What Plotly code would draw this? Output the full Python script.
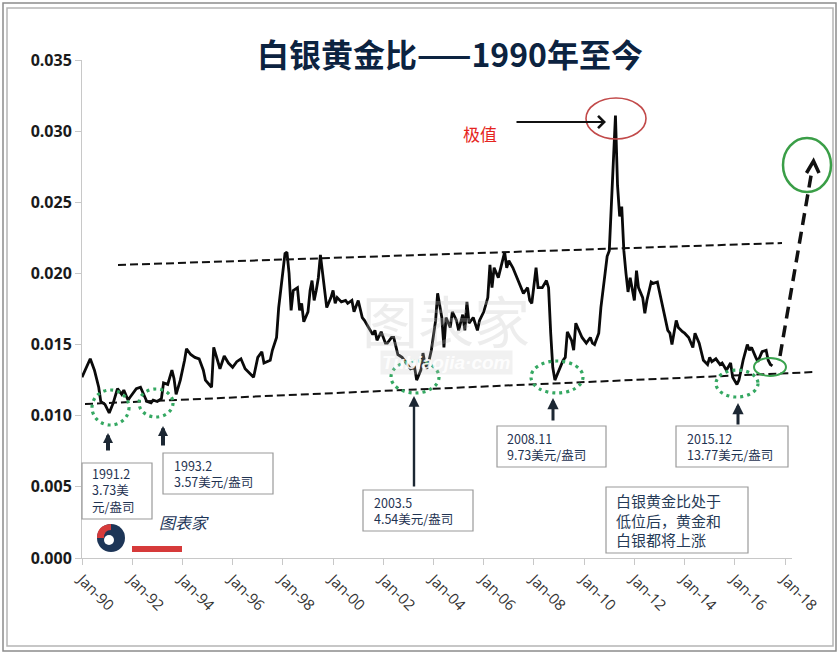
import plotly.graph_objects as go

# ---------------- data ----------------
dates = [
    "1990-01", "1990-03", "1990-05", "1990-07", "1990-09", "1990-10", "1990-12",
    "1991-02", "1991-04", "1991-06", "1991-08", "1991-09", "1991-11", "1991-12",
    "1992-03", "1992-05", "1992-06", "1992-08", "1992-10", "1992-11",
    "1993-01", "1993-03", "1993-04", "1993-06", "1993-08", "1993-09", "1993-10", "1993-12",
    "1994-02", "1994-03", "1994-05", "1994-07", "1994-09", "1994-11", "1994-12",
    "1995-03", "1995-04", "1995-06", "1995-07", "1995-09", "1995-11",
    "1996-01", "1996-03", "1996-05", "1996-06", "1996-07", "1996-09", "1996-11",
    "1997-01", "1997-03", "1997-04", "1997-07", "1997-08", "1997-10", "1997-11",
    "1998-01", "1998-02", "1998-03", "1998-04", "1998-05", "1998-06", "1998-08",
    "1998-09", "1998-10", "1998-11",
    "1999-01", "1999-02", "1999-03", "1999-04", "1999-05", "1999-06", "1999-07",
    "1999-08", "1999-10", "1999-12",
    "2000-01", "2000-02", "2000-03", "2000-05", "2000-07", "2000-08", "2000-10", "2000-11",
    "2001-01", "2001-03", "2001-04", "2001-06", "2001-08", "2001-09", "2001-10", "2001-12",
    "2002-02", "2002-03", "2002-05", "2002-06", "2002-08", "2002-10", "2002-12",
    "2003-02", "2003-04", "2003-05", "2003-07", "2003-08", "2003-09", "2003-10", "2003-12",
    "2004-02", "2004-03", "2004-05", "2004-06", "2004-07", "2004-09", "2004-10", "2004-12",
    "2005-01", "2005-03", "2005-04", "2005-05", "2005-06", "2005-08", "2005-10", "2005-11",
    "2006-01", "2006-03", "2006-04", "2006-05", "2006-06", "2006-08", "2006-10", "2006-11",
    "2006-12",
    "2007-01", "2007-03", "2007-05", "2007-06", "2007-08", "2007-10", "2007-11", "2007-12",
    "2008-02", "2008-03", "2008-05", "2008-07", "2008-08", "2008-09", "2008-10", "2008-11",
    "2009-01", "2009-03", "2009-04", "2009-05", "2009-07", "2009-08", "2009-09", "2009-11",
    "2009-12",
    "2010-02", "2010-04", "2010-05", "2010-06", "2010-08", "2010-09", "2010-11", "2010-12",
    "2011-01", "2011-02", "2011-03", "2011-04", "2011-05", "2011-06", "2011-07", "2011-08",
    "2011-09", "2011-10", "2011-11",
    "2012-01", "2012-02", "2012-03", "2012-05", "2012-06", "2012-07", "2012-09", "2012-10",
    "2012-12",
    "2013-01", "2013-02", "2013-03", "2013-05", "2013-06", "2013-07", "2013-09", "2013-10",
    "2013-12",
    "2014-01", "2014-03", "2014-05", "2014-06", "2014-08", "2014-10", "2014-12",
    "2015-01", "2015-02", "2015-04", "2015-06", "2015-07", "2015-09", "2015-11", "2015-12",
    "2016-02", "2016-03", "2016-04", "2016-05", "2016-07", "2016-08", "2016-09", "2016-10",
    "2016-11", "2016-12",
    "2017-02", "2017-04", "2017-05", "2017-06", "2017-07",
]
ratio = [
    0.0127, 0.0134, 0.0140, 0.0132, 0.0120, 0.0110, 0.0108,
    0.0102, 0.0109, 0.0119, 0.0115, 0.0118, 0.0111, 0.0113,
    0.0119, 0.0120, 0.0117, 0.0110, 0.0109, 0.0111,
    0.0110, 0.0112, 0.0123, 0.0122, 0.0132, 0.0126, 0.0115, 0.0125,
    0.0139, 0.0147, 0.0143, 0.0141, 0.0140, 0.0132, 0.0125,
    0.0120, 0.0148, 0.0137, 0.0133, 0.0142, 0.0137,
    0.0134, 0.0138, 0.0140, 0.0136, 0.0133, 0.0130, 0.0127,
    0.0141, 0.0145, 0.0137, 0.0139, 0.0146, 0.0155, 0.0176,
    0.0204, 0.0214, 0.0215, 0.0200, 0.0174, 0.0188, 0.0190,
    0.0174, 0.0179, 0.0166,
    0.0173, 0.0188, 0.0195, 0.0181, 0.0188, 0.0197, 0.0213,
    0.0200, 0.0176, 0.0183,
    0.0188, 0.0179, 0.0183, 0.0180, 0.0181, 0.0179, 0.0181, 0.0173,
    0.0181, 0.0169, 0.0167, 0.0162, 0.0157, 0.0160, 0.0153, 0.0159,
    0.0151, 0.0151, 0.0155, 0.0155, 0.0143, 0.0141, 0.0137,
    0.0133, 0.0134, 0.0125, 0.0132, 0.0144, 0.0136, 0.0133, 0.0146,
    0.0167, 0.0186, 0.0169, 0.0148, 0.0169, 0.0162, 0.0173, 0.0167,
    0.0160, 0.0171, 0.0160, 0.0180, 0.0165, 0.0169, 0.0160, 0.0167,
    0.0173, 0.0183, 0.0206, 0.0190, 0.0204, 0.0197, 0.0209, 0.0215,
    0.0204,
    0.0209, 0.0204, 0.0197, 0.0193, 0.0186, 0.0190, 0.0181, 0.0179,
    0.0204, 0.0190, 0.0190, 0.0195, 0.0190, 0.0158, 0.0134, 0.0125,
    0.0132, 0.0139, 0.0141, 0.0159, 0.0153, 0.0146, 0.0165, 0.0158,
    0.0155,
    0.0151, 0.0155, 0.0151, 0.0150, 0.0158, 0.0176, 0.0200, 0.0212,
    0.0216, 0.0252, 0.0275, 0.0311, 0.0262, 0.0240, 0.0247, 0.0216,
    0.0200, 0.0187, 0.0197,
    0.0181, 0.0202, 0.0190, 0.0183, 0.0172, 0.0181, 0.0194, 0.0193,
    0.0194,
    0.0187, 0.0180, 0.0172, 0.0160, 0.0158, 0.0150, 0.0167, 0.0162,
    0.0159,
    0.0158, 0.0155, 0.0148, 0.0158, 0.0151, 0.0139, 0.0136,
    0.0141, 0.0138, 0.0140, 0.0136, 0.0137, 0.0132, 0.0137, 0.0127,
    0.0122, 0.0125, 0.0132, 0.0139, 0.0150, 0.0146, 0.0148, 0.0144,
    0.0141, 0.0138,
    0.0145, 0.0146, 0.0139, 0.0136, 0.0135,
]

tick_years = list(range(1990, 2020, 2))
tick_vals = [f"{y}-01-01" for y in tick_years]

title_text = "白银黄金比——1990年至今"
peak_label = "极值"
box_texts = [
    "1991.2<br>3.73美<br>元/盎司",
    "1993.2<br>3.57美元/盎司",
    "2003.5<br>4.54美元/盎司",
    "2008.11<br>9.73美元/盎司",
    "2015.12<br>13.77美元/盎司",
]
note_text = "白银黄金比处于<br>低位后，黄金和<br>白银都将上涨"

# ---------------- layout helpers (reference pixel -> paper) ----------------
L, R, T, B = 82, 792, 60, 558
W, H = 840, 656


def PX(x):
    return (x - L) / (R - L)


def PY(y):
    return (B - y) / (B - T)


CJK = "Noto Sans CJK SC"
NAVY = "#1f3352"

fig = go.Figure()
fig.add_trace(go.Scatter(
    x=dates, y=ratio, mode="lines",
    line=dict(color="#0a0a0a", width=2.8),
    hoverinfo="x+y", showlegend=False,
))

shapes = []
annotations = []

# outer frame (double gray border)
shapes.append(dict(type="rect", xref="paper", yref="paper",
                   x0=PX(3), x1=PX(836), y0=PY(651), y1=PY(3),
                   line=dict(color="#8c8c8c", width=1.5)))
shapes.append(dict(type="rect", xref="paper", yref="paper",
                   x0=PX(7), x1=PX(833), y0=PY(646), y1=PY(8),
                   line=dict(color="#b5b5b5", width=1.5)))

# dashed channel lines
for (xa, ya, xb, yb) in [(118, 265, 782, 243), (85, 404, 815, 372)]:
    shapes.append(dict(type="line", xref="paper", yref="paper",
                       x0=PX(xa), y0=PY(ya), x1=PX(xb), y1=PY(yb),
                       line=dict(color="#111111", width=2, dash="8px,4px")))

# green dotted ellipses around lows
for (x0, x1, y0, y1) in [(92, 129, 390, 425), (139, 173, 389, 417),
                         (391, 439, 361, 393), (531, 583, 361, 393),
                         (716, 758, 370, 397)]:
    shapes.append(dict(type="circle", xref="paper", yref="paper",
                       x0=PX(x0), x1=PX(x1), y0=PY(y1), y1=PY(y0),
                       line=dict(color="#35a862", width=3.2, dash="3px,4px")))

# solid green ellipses
shapes.append(dict(type="circle", xref="paper", yref="paper",
                   x0=PX(754), x1=PX(786), y0=PY(376), y1=PY(358),
                   line=dict(color="#3aa34f", width=2)))
shapes.append(dict(type="circle", xref="paper", yref="paper",
                   x0=PX(783), x1=PX(831), y0=PY(192), y1=PY(138),
                   line=dict(color="#3a9e47", width=2.5)))

# red ellipse around the peak
shapes.append(dict(type="circle", xref="paper", yref="paper",
                   x0=PX(586), x1=PX(646), y0=PY(139), y1=PY(98),
                   line=dict(color="#c24a4a", width=1.6)))

# big dashed forecast arrow
shapes.append(dict(type="line", xref="paper", yref="paper",
                   x0=PX(780), y0=PY(356), x1=PX(812), y1=PY(170),
                   line=dict(color="#111111", width=3.5, dash="12px,7px")))
shapes.append(dict(type="path", xref="paper", yref="paper",
                   path=f"M{PX(806.5)},{PY(173)} L{PX(813.5)},{PY(161)} L{PX(819)},{PY(173)}",
                   line=dict(color="#111111", width=3.5)))

# text boxes
boxes = [(82, 152, 463, 519), (163, 273, 453, 494), (363, 473, 490, 531),
         (497, 606, 426, 467), (676, 788, 426, 467)]
box_text_pos = [(90, 490), (172, 473), (372, 510), (505, 446), (685, 446)]
for (x0, x1, y0, y1) in boxes + [(606, 748, 487, 553)]:
    shapes.append(dict(type="rect", xref="paper", yref="paper",
                       x0=PX(x0), x1=PX(x1), y0=PY(y1), y1=PY(y0),
                       fillcolor="white", line=dict(color="#9a9a9a", width=1.2),
                       layer="above"))
for txt, (tx, ty) in zip(box_texts, box_text_pos):
    annotations.append(dict(xref="paper", yref="paper", x=PX(tx), y=PY(ty),
                            text=txt, showarrow=False, xanchor="left",
                            yanchor="middle", align="left",
                            font=dict(family=CJK, size=12.5, color=NAVY)))
annotations.append(dict(xref="paper", yref="paper", x=PX(614), y=PY(520),
                        text=note_text, showarrow=False, xanchor="left",
                        yanchor="middle", align="left",
                        font=dict(family=CJK, size=15, color="#263a56")))

# up arrows under the lows
for (ax_, tip, tail, w, size) in [(108, 433, 452, 4, 0.5), (163, 426, 447, 4, 0.5),
                                  (414, 396, 488, 2.4, 0.9), (553, 398, 422, 3, 0.75),
                                  (738, 403, 426, 3, 0.75)]:
    annotations.append(dict(xref="paper", yref="paper", x=PX(ax_), y=PY(tip),
                            ax=0, ay=tail - tip, text="", showarrow=True,
                            arrowhead=2, arrowsize=size, arrowwidth=w,
                            arrowcolor="#1c2733"))

# peak label and arrow
annotations.append(dict(xref="paper", yref="paper", x=PX(480), y=PY(119),
                        text=peak_label, showarrow=False,
                        font=dict(family=CJK, size=17, color="#e52420")))
annotations.append(dict(xref="paper", yref="paper", x=PX(606), y=PY(122),
                        ax=-91, ay=0, text="", showarrow=True,
                        arrowhead=4, arrowsize=1.3, arrowwidth=1.8,
                        arrowcolor="#111111"))

# watermark
annotations.append(dict(xref="paper", yref="paper", x=PX(446), y=PY(318),
                        text="图表家", showarrow=False,
                        font=dict(family=CJK, size=56, color="rgba(190,190,190,0.28)")))
annotations.append(dict(xref="paper", yref="paper", x=PX(446), y=PY(362),
                        text="<b><i>Tubiaojia·com</i></b>", showarrow=False,
                        bgcolor="rgba(200,200,200,0.25)",
                        font=dict(family="Liberation Sans", size=19, color="rgba(255,255,255,0.9)")))

# logo bottom-left
shapes.append(dict(type="circle", xref="paper", yref="paper",
                   x0=PX(97), x1=PX(125), y0=PY(552), y1=PY(524),
                   fillcolor="#1d3557", line=dict(width=0)))
shapes.append(dict(type="path", xref="paper", yref="paper",
                   path=(f"M{PX(111)},{PY(524)} Q{PX(97)},{PY(525)} {PX(97)},{PY(538)} "
                         f"L{PX(104)},{PY(538)} Q{PX(104)},{PY(530)} {PX(111)},{PY(530)} Z"),
                   fillcolor="#d63a3a", line=dict(width=0)))
shapes.append(dict(type="circle", xref="paper", yref="paper",
                   x0=PX(104), x1=PX(114), y0=PY(545), y1=PY(535),
                   fillcolor="white", line=dict(width=0)))
shapes.append(dict(type="rect", xref="paper", yref="paper",
                   x0=PX(132), x1=PX(182), y0=PY(552), y1=PY(546),
                   fillcolor="#d63a3a", line=dict(width=0)))
annotations.append(dict(xref="paper", yref="paper", x=PX(157), y=PY(536),
                        text="<i>图表家</i>", showarrow=False,
                        font=dict(family=CJK, size=16, color="#1d3557")))

fig.update_layout(
    width=W, height=H,
    margin=dict(l=L, r=W - R, t=T, b=H - B),
    paper_bgcolor="white", plot_bgcolor="white",
    title=dict(text=f"<b>{title_text}</b>", x=450 / W, y=1 - 56 / H,
               xanchor="center", yanchor="middle",
               font=dict(family=CJK, size=32, color="#0c2340")),
    shapes=shapes, annotations=annotations,
    showlegend=False,
)
fig.update_xaxes(
    type="date", range=["1990-01-01", "2018-04-12"],
    tickvals=tick_vals, tickformat="%b-%y", tickangle=45,
    showline=True, linecolor="#c8c8c8", linewidth=1,
    ticks="outside", ticklen=6, tickcolor="#c8c8c8",
    showgrid=False, zeroline=False,
    tickfont=dict(family="Open Sans", size=15, color="#333333"),
)
fig.update_yaxes(
    range=[0, 0.035], dtick=0.005, tickformat=".3f",
    showline=True, linecolor="#c8c8c8", linewidth=1,
    ticks="outside", ticklen=6, tickcolor="#c8c8c8",
    showgrid=False, zeroline=False,
    tickfont=dict(family="Open Sans", size=16, color="#1a1a1a", weight="bold"),
)

fig.write_html("out.html", config={"displayModeBar": False},
               post_script="document.body.style.margin='0px';")
